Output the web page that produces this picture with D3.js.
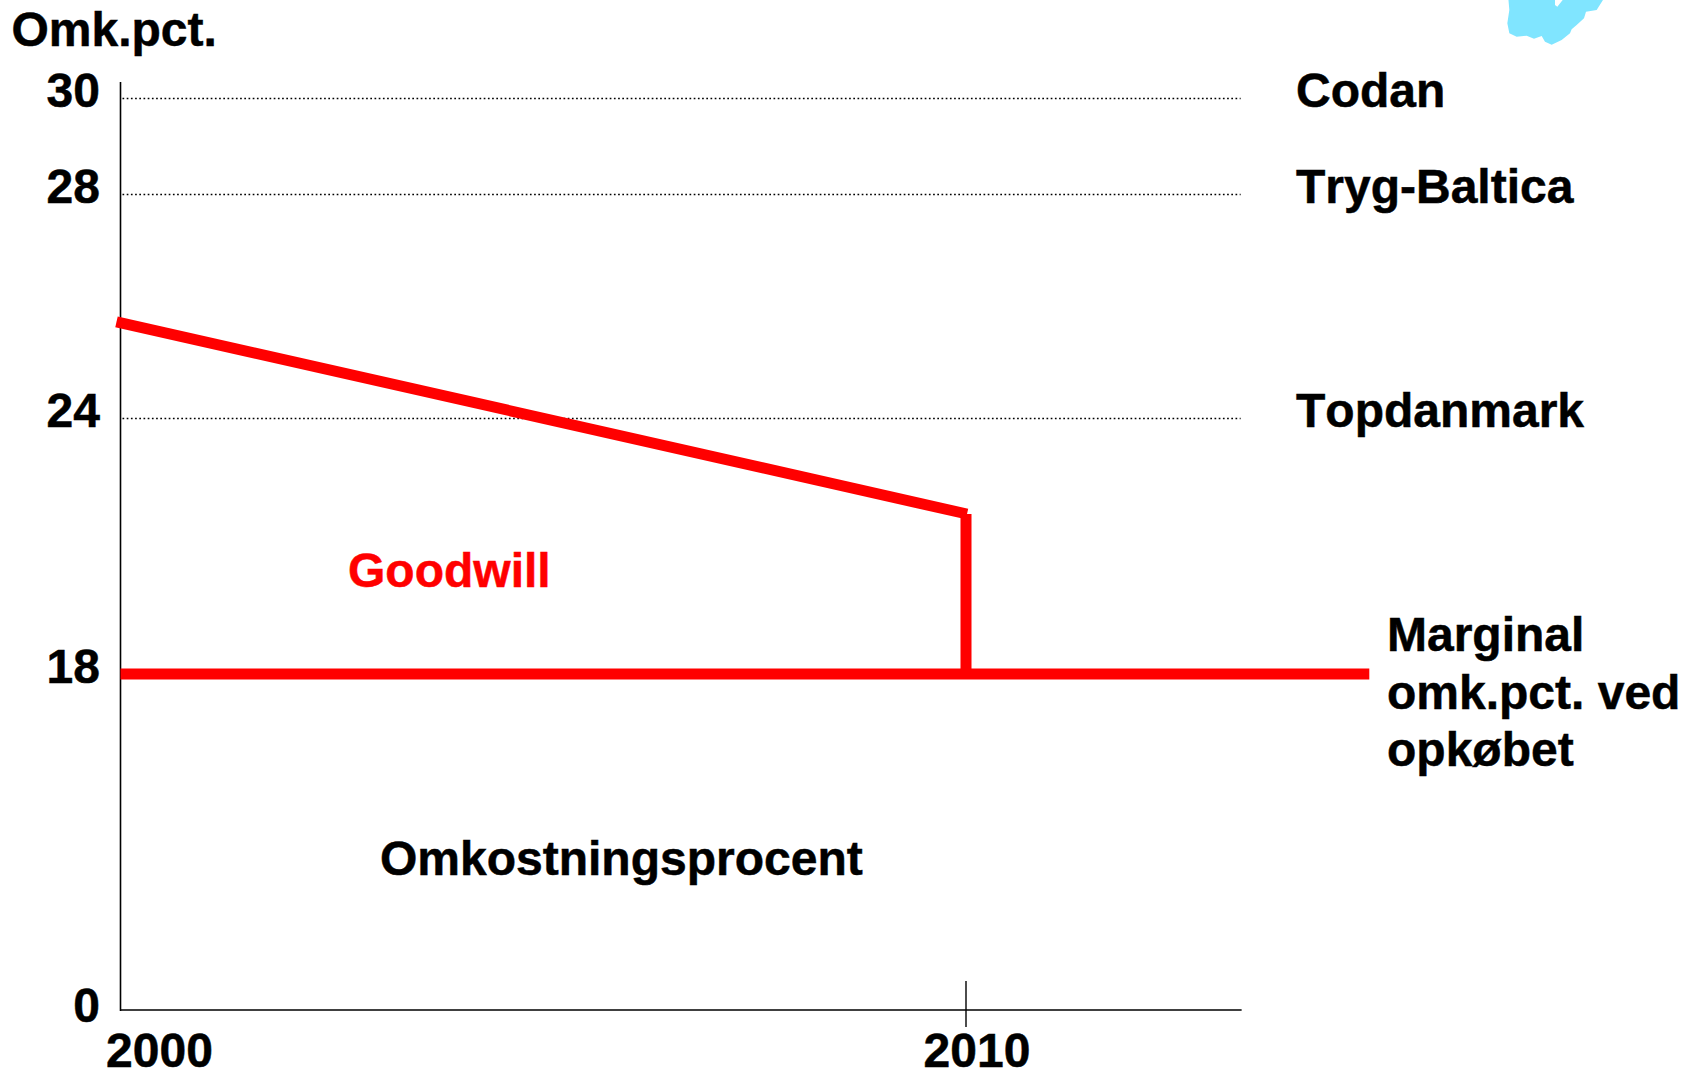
<!DOCTYPE html>
<html>
<head>
<meta charset="utf-8">
<script src="https://cdn.jsdelivr.net/npm/d3@7"></script>
<style>
  html, body { margin: 0; padding: 0; background: #fff; }
  text {
    font-family: "Liberation Sans", Arial, sans-serif;
    font-weight: bold;
    font-kerning: none;
    fill: #000;
    stroke: #000;
    stroke-width: 0.5;
  }
  text.goodwill { fill: #f00; stroke: #f00; }
</style>
</head>
<body>
<div class="canvas"></div>
<script>
const yTicks = [0, 18, 24, 28, 30];
const xTicks = [2000, 2010];
const companies = ["Codan", "Tryg-Baltica", "Topdanmark"];
const companyValues = [30, 28, 24];
const goodwillYears = [2000, 2010];
const goodwillValues = [25.7, 21.75];
const marginalValue = 18;
const marginalEndYear = 2014.77;
const axisEndYear = 2013.26;
const marginalLabel = ["Marginal", "omk.pct. ved", "opkøbet"];
const blobOutline = [[85,-5],[88,30],[82,70],[88,100],[110,110],[140,107],[162,116],[185,108],[195,125],[215,134],[245,120],[270,100],[275,88],[290,75],[312,55],[318,35],[350,30],[372,-5],[252,-5],[232,20],[225,15],[225,-5]];

const svg = d3.select('.canvas')
    .append('svg')
    .attr('width', 1685)
    .attr('height', 1070)
    .style('display', 'block');

// the y axis is not to scale in the picture, so it is piecewise
const y = d3.scaleLinear().domain([0, 18, 24, 28, 30]).range([1010, 674, 418, 194, 98]);
const x = d3.scaleLinear().domain([2000, 2010]).range([120.5, 966]);

// blue blob in the corner, cut off by the top edge
svg.append('path')
    .attr('d', d3.line().x(d => 1480 + d[0] / 3).y(d => d[1] / 3)(blobOutline) + 'Z')
    .attr('fill', '#80e5ff');

// dotted company lines
svg.selectAll('.company-line')
    .data(companyValues)
    .join('line')
    .attr('class', 'company-line')
    .attr('x1', x(2000) + 2)
    .attr('x2', x(axisEndYear) - 1)
    .attr('y1', d => y(d) + 0.5)
    .attr('y2', d => y(d) + 0.5)
    .attr('stroke', '#000')
    .attr('stroke-width', 1.6)
    .attr('stroke-dasharray', '1.7 2.5');

// axes
svg.append('line')
    .attr('x1', x(2000)).attr('x2', x(2000))
    .attr('y1', 82).attr('y2', y(0) + 1)
    .attr('stroke', '#000').attr('stroke-width', 1.6);
svg.append('line')
    .attr('x1', x(2000)).attr('x2', x(axisEndYear))
    .attr('y1', y(0)).attr('y2', y(0))
    .attr('stroke', '#000').attr('stroke-width', 1.6);
svg.append('line')
    .attr('x1', x(2010)).attr('x2', x(2010))
    .attr('y1', 981).attr('y2', 1027)
    .attr('stroke', '#000').attr('stroke-width', 1.4);

// red lines
svg.append('line')
    .attr('x1', x(goodwillYears[0]) - 4).attr('x2', x(goodwillYears[1]) + 1)
    .attr('y1', y(goodwillValues[0]) - 1).attr('y2', y(goodwillValues[1]))
    .attr('stroke', '#f00').attr('stroke-width', 11);
svg.append('line')
    .attr('x1', x(2010)).attr('x2', x(2010))
    .attr('y1', y(goodwillValues[1])).attr('y2', y(marginalValue))
    .attr('stroke', '#f00').attr('stroke-width', 11);
svg.append('line')
    .attr('x1', x(2000)).attr('x2', x(marginalEndYear))
    .attr('y1', y(marginalValue)).attr('y2', y(marginalValue))
    .attr('stroke', '#f00').attr('stroke-width', 11);

// text
const fontSize = 48;
svg.append('text').attr('x', 11.5).attr('y', 46).attr('font-size', fontSize).text('Omk.pct.');

svg.selectAll('.y-label')
    .data(yTicks)
    .join('text')
    .attr('class', 'y-label')
    .attr('x', 100)
    .attr('y', d => d === 0 ? 1022 : y(d) + 8.5)
    .attr('text-anchor', 'end')
    .attr('font-size', fontSize)
    .text(d => d);

svg.selectAll('.x-label')
    .data(xTicks)
    .join('text')
    .attr('class', 'x-label')
    .attr('x', d => d === 2000 ? 159.5 : 977)
    .attr('y', 1067)
    .attr('text-anchor', 'middle')
    .attr('font-size', fontSize)
    .text(d => d);

svg.selectAll('.company')
    .data(companies)
    .join('text')
    .attr('class', 'company')
    .attr('x', 1296)
    .attr('y', (d, i) => y(companyValues[i]) + 9)
    .attr('font-size', fontSize)
    .text(d => d);

svg.selectAll('.marginal')
    .data(marginalLabel)
    .join('text')
    .attr('class', 'marginal')
    .attr('x', 1387)
    .attr('y', (d, i) => 651 + i * 57.5)
    .attr('font-size', fontSize)
    .text(d => d);

svg.append('text').attr('class', 'goodwill').attr('x', 348).attr('y', 587).attr('font-size', fontSize).text('Goodwill');
svg.append('text').attr('x', 380).attr('y', 875).attr('font-size', fontSize).text('Omkostningsprocent');
</script>
</body>
</html>
